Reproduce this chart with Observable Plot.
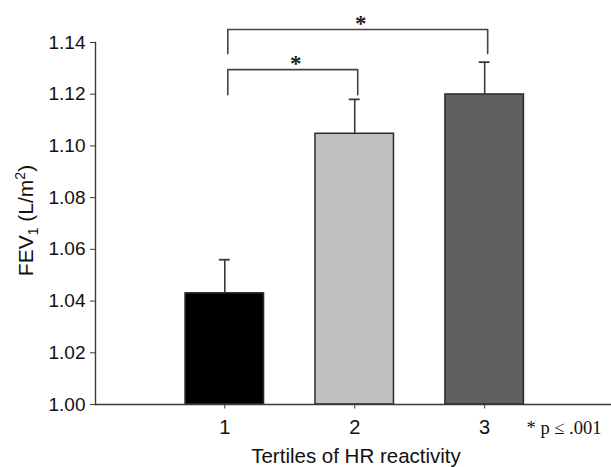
<!DOCTYPE html>
<html>
<head>
<meta charset="utf-8">
<script src="https://cdn.jsdelivr.net/npm/d3@7"></script>
<script src="https://cdn.jsdelivr.net/npm/@observablehq/plot@0.6"></script>
<style>
  html, body { margin: 0; padding: 0; background: #fff; }
  svg { display: block; }
</style>
</head>
<body>
<div id="chart"></div>
<script>
// ---- data ----
const tertiles = [1, 2, 3];
const tertileLabels = ["1", "2", "3"];
const fevMean = [1.043, 1.1047, 1.1199];
const fevUpper = [1.056, 1.118, 1.1324];
const barColors = ["#000000", "#c0c0c0", "#606060"];
const yTicks = [1.00, 1.02, 1.04, 1.06, 1.08, 1.10, 1.12, 1.14];

const compFrom = [1, 1];
const compTo = [2, 3];
const bracketLow = [1.1198, 1.1357];
const bracketHigh = [1.1295, 1.1450];
const sigMarks = ["*", "*"];

const yLabel = "FEV1 (L/m2)";
const xLabel = "Tertiles of HR reactivity";
const pNote = "* p \u2264 .001";

// ---- tables built from the arrays ----
const bars = tertiles.map((t, i) => ({t, mean: fevMean[i], upper: fevUpper[i]}));
const halfBar = 0.302;
const halfCap = 0.042;

const bracketPts = [];
compFrom.forEach((a, i) => {
  const b = compTo[i];
  bracketPts.push({k: i, x: a, y: bracketLow[i]});
  bracketPts.push({k: i, x: a, y: bracketHigh[i]});
  bracketPts.push({k: i, x: b, y: bracketHigh[i]});
  bracketPts.push({k: i, x: b, y: bracketLow[i]});
});
const stars = compFrom.map((a, i) => ({x: (a + compTo[i]) / 2, y: bracketHigh[i], s: sigMarks[i]}));

const sans = "'Liberation Sans', Arial, Helvetica, sans-serif";
const serif = "'Liberation Serif', 'Times New Roman', serif";
const ink = "#3a3a3a";

const chart = Plot.plot({
  width: 611,
  height: 467,
  marginLeft: 95,
  marginRight: 0,
  marginTop: 42,
  marginBottom: 63,
  style: {fontFamily: sans, fontSize: "19px", background: "#fff", color: "#111"},
  x: {type: "linear", domain: [0.005, 3.976]},
  y: {domain: [1.0, 1.14]},
  color: {type: "ordinal", domain: tertiles, range: barColors},
  marks: [
    Plot.rectY(bars, {
      x1: d => d.t - halfBar, x2: d => d.t + halfBar,
      y1: 1.0, y2: "mean",
      fill: "t", stroke: "#2a2a2a", strokeWidth: 1.5
    }),
    Plot.ruleX(bars, {x: "t", y1: "mean", y2: "upper", stroke: ink, strokeWidth: 1.6}),
    Plot.ruleY(bars, {y: "upper", x1: d => d.t - halfCap, x2: d => d.t + halfCap, stroke: ink, strokeWidth: 1.8}),
    Plot.line(bracketPts, {x: "x", y: "y", z: "k", dx: 3, stroke: "#444", strokeWidth: 1.6, curve: "linear"}),
    Plot.text(stars, {x: "x", y: "y", text: "s", dx: 6, dy: 1, lineAnchor: "bottom",
      fontFamily: serif, fontSize: 23, fontWeight: "bold", fill: "#222"}),
    Plot.ruleY([1.0], {stroke: ink, strokeWidth: 1.4}),
    Plot.frame({anchor: "left", stroke: ink, strokeWidth: 1.4}),
    Plot.axisY({ticks: yTicks, tickFormat: d3.format(".2f"), tickSize: 5, tickPadding: 5,
      label: null, stroke: ink, fill: "#111"}),
    Plot.axisX({ticks: tertiles, tickFormat: d => tertileLabels[tertiles.indexOf(d)],
      tickSize: 4.5, tickPadding: 11, label: null, stroke: ink, fill: "#111"}),
    Plot.text([yLabel], {frameAnchor: "left", textAnchor: "middle", lineAnchor: "bottom",
      rotate: -90, dx: -63, dy: -3, fontSize: 21, fill: "#111"}),
    Plot.text([xLabel], {frameAnchor: "bottom", textAnchor: "middle", lineAnchor: "bottom",
      dy: 58, dx: 2.5, fontSize: 20.5, fill: "#111"}),
    Plot.text([pNote], {frameAnchor: "bottom-right", textAnchor: "end", lineAnchor: "bottom",
      dy: 29, dx: -10, fontSize: 18.5, fill: "#111", fontFamily: serif})
  ]
});

// tick label sizes
d3.select(chart).selectAll('g[aria-label="y-axis tick label"]').attr("font-size", 19);
d3.select(chart).selectAll('g[aria-label="x-axis tick label"]').attr("font-size", 20);

// subscript / superscript in the y label
d3.select(chart).selectAll("text").filter(function () { return this.textContent === yLabel; })
  .each(function () {
    const t = d3.select(this);
    t.text(null);
    t.append("tspan").text("FEV");
    t.append("tspan").attr("dy", 5).attr("font-size", 14).text("1");
    t.append("tspan").attr("dy", -5).text(" (L/m");
    t.append("tspan").attr("dy", -8).attr("font-size", 14).text("2");
    t.append("tspan").attr("dy", 8).text(")");
  });

document.getElementById("chart").appendChild(chart);
</script>
</body>
</html>
